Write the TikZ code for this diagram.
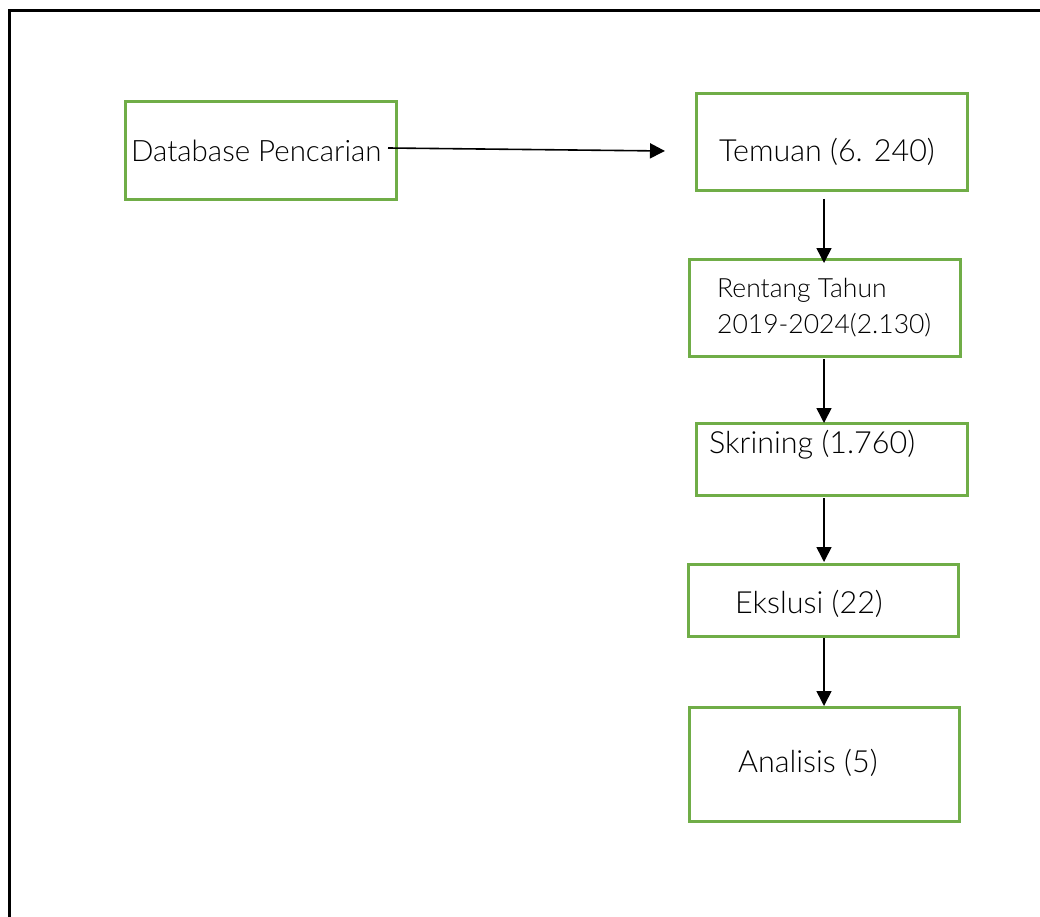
\documentclass[tikz,border=0pt]{standalone}
\usepackage{fontspec}
\setmainfont{Lato Light}
\usetikzlibrary{arrows.meta}
\definecolor{boxgreen}{RGB}{112,173,71}
\tikzset{
  stepbox/.style={draw=boxgreen,line width=3pt,inner sep=0pt,outer sep=0pt,fill=none},
  lbl/.style={anchor=base west,inner sep=0pt,font=\fontsize{30.5}{36}\selectfont},
  lblsmall/.style={anchor=base west,inner sep=0pt,font=\fontsize{26.5}{32}\selectfont},
  arr/.style={line width=1.6pt,-{Triangle[width=15pt,length=15pt]}}
}
\begin{document}
\begin{tikzpicture}[x=1pt,y=-1pt]
\useasboundingbox (0,0) rectangle (1040,917);
\draw[line width=3pt] (9,930) -- (9,11) -- (1050,11);
% boxes
\node[stepbox,minimum width=271pt,minimum height=98pt] (db) at (260.5,151) {};
\node[stepbox,minimum width=271pt,minimum height=97pt] (temuan) at (831.5,142.5) {};
\node[stepbox,minimum width=271pt,minimum height=97pt] (rentang) at (824.5,307.5) {};
\node[stepbox,minimum width=271pt,minimum height=72pt] (skrining) at (831.5,459) {};
\node[stepbox,minimum width=270pt,minimum height=72pt] (ekslusi) at (823,600) {};
\node[stepbox,minimum width=270pt,minimum height=114pt] (analisis) at (824,764) {};
% labels
\node[lbl,font=\fontsize{29.5}{36}\selectfont] (tdb) at (131,162) {Database Pencarian};
\node[lbl] (ttemuan) at (719,162) {Temuan (6. 240)};
\node[lblsmall] (trent1) at (717,297) {Rentang Tahun};
\node[lblsmall] (trent2) at (717,333) {2019-2024(2.130)};
\node[lbl] (tskr) at (709,453) {Skrining (1.760)};
\node[lbl] (teks) at (735,613) {Ekslusi (22)};
\node[lbl] (tana) at (738,772) {Analisis (5)};
% connectors
\coordinate (hs) at (388,148);
\coordinate (he) at (665,151);
\coordinate (ax) at (824,0);
\draw[arr] (hs) -- (he);
\draw[arr,shorten <=8pt,shorten >=-4pt] (temuan.south -| ax) -- (rentang.north -| ax);
\draw[arr,shorten <=3pt] (rentang.south -| ax) -- (skrining.north -| ax);
\draw[arr,shorten <=3pt,shorten >=2pt] (skrining.south -| ax) -- (ekslusi.north -| ax);
\draw[arr,shorten <=2pt,shorten >=1pt] (ekslusi.south -| ax) -- (analisis.north -| ax);
\end{tikzpicture}
\end{document}
